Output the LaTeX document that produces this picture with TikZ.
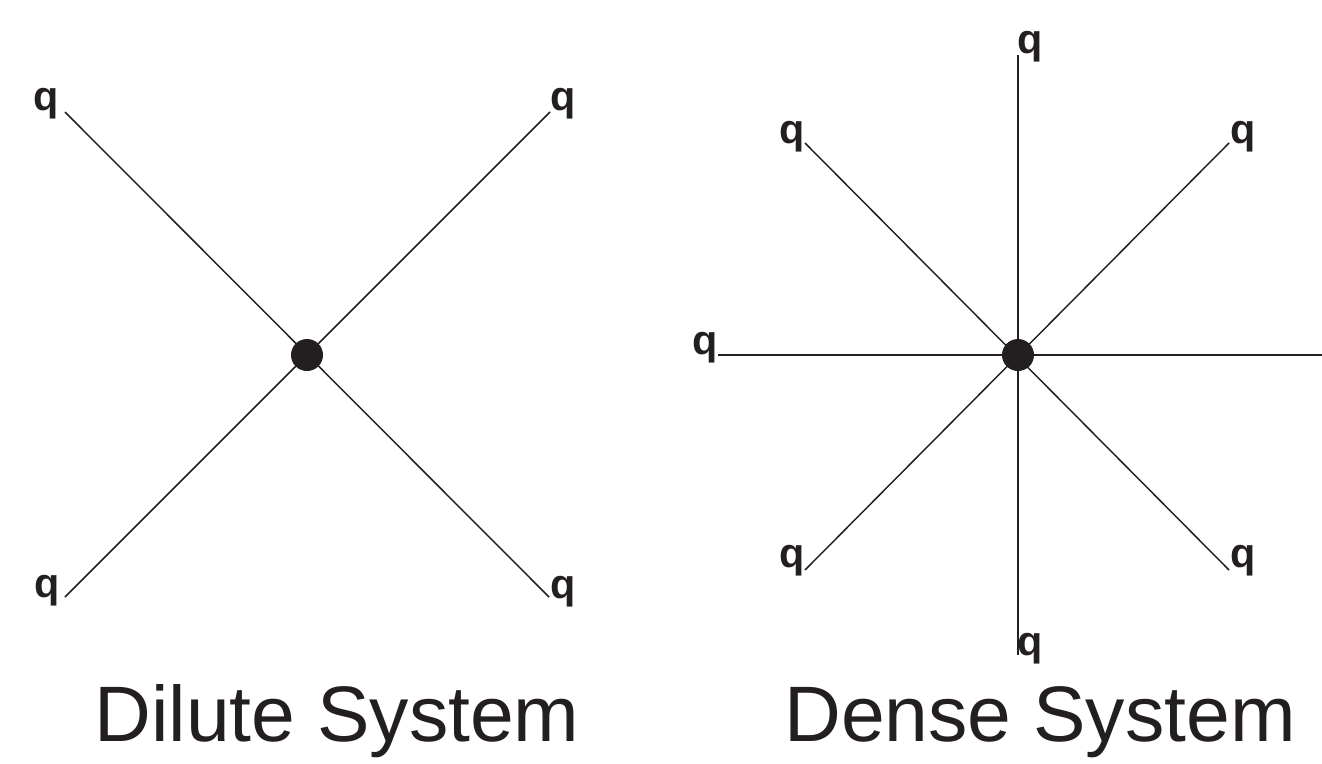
\documentclass[tikz,border=0pt]{standalone}
\usepackage{fontspec}
\setmainfont{Liberation Sans}
\begin{document}
\begin{tikzpicture}[x=0.75pt,y=-0.75pt,
  spoke/.style={line width=1.1pt, draw={rgb,255:red,35;green,31;blue,32}},
  qlab/.style={font=\fontsize{31}{31}\selectfont\bfseries, text={rgb,255:red,35;green,31;blue,32}, inner sep=0pt},
  hub/.style={circle, fill={rgb,255:red,35;green,31;blue,32}, minimum size=24pt, inner sep=0pt},
  title/.style={font=\fontsize{59}{59}\selectfont, text={rgb,255:red,35;green,31;blue,32}, inner sep=0pt, anchor=base}]
\useasboundingbox (0,0) rectangle (1322,764);
\clip (0,0) rectangle (1322,764);
% Dilute
\node[hub] (c1) at (307,355) {};
\coordinate (a1) at (65,112);
\coordinate (a2) at (550,112);
\coordinate (a3) at (65,597);
\coordinate (a4) at (549,597);
\draw[spoke] (a1) -- (a4);
\draw[spoke] (a2) -- (a3);
\node[qlab] (q1) at (46,104) {q};
\node[qlab] (q2) at (563,104) {q};
\node[qlab] (q3) at (47,591) {q};
\node[qlab] (q4) at (563,592) {q};
\node[title] (t1) at (337,741) {Dilute System};
% Dense
\node[hub] (c2) at (1018,355) {};
\coordinate (b1) at (1018,55);
\coordinate (b2) at (1018,655);
\coordinate (b3) at (718,355);
\coordinate (b4) at (1322,355);
\coordinate (b5) at (805,143);
\coordinate (b6) at (1229,143);
\coordinate (b7) at (805,570);
\coordinate (b8) at (1229,570);
\draw[spoke] (b1) -- (b2);
\draw[spoke] (b3) -- (b4);
\draw[spoke] (b5) -- (b8);
\draw[spoke] (b6) -- (b7);
\node[qlab] (p1) at (1030,47) {q};
\node[qlab] (p2) at (1030,649) {q};
\node[qlab] (p3) at (705,348) {q};
\node[qlab] (p4) at (1335,348) {q};
\node[qlab] (p5) at (792,137) {q};
\node[qlab] (p6) at (1243,137) {q};
\node[qlab] (p7) at (792,561) {q};
\node[qlab] (p8) at (1243,561) {q};
\node[title] (t2) at (1040,741) {Dense System};
\end{tikzpicture}
\end{document}
